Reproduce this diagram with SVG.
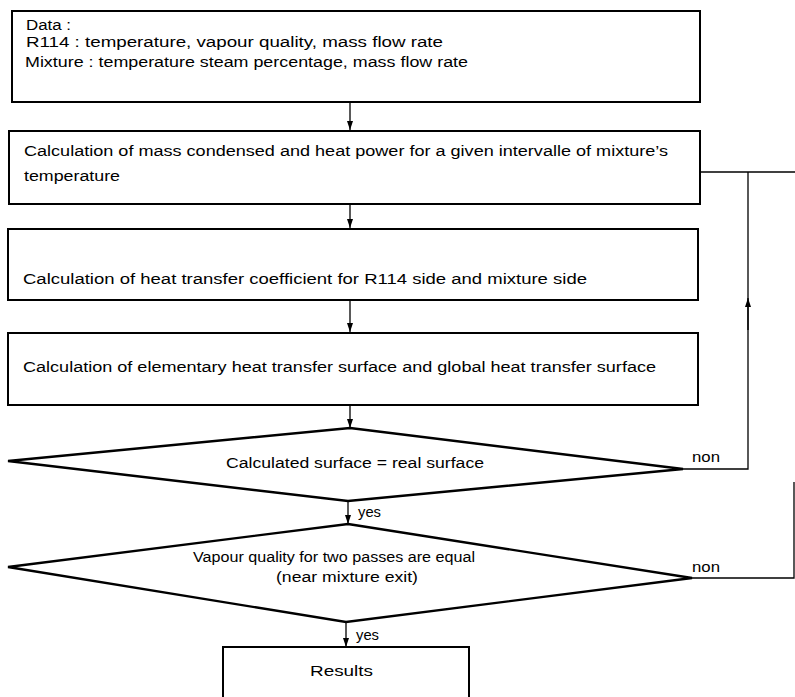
<svg xmlns="http://www.w3.org/2000/svg" width="795" height="697" viewBox="0 0 795 697">
<style>
.box{fill:#fff;stroke:#000;stroke-width:2}
.dia{fill:#fff;stroke:#000;stroke-width:2.4;stroke-linejoin:miter}
.t{font-family:"Liberation Sans",Arial,sans-serif;font-size:14px;fill:#000}
.c{stroke:#000;stroke-width:1.3;fill:none}
</style>
<defs>
<marker id="ah" markerWidth="10" markerHeight="8" refX="9" refY="3" orient="auto" markerUnits="userSpaceOnUse">
<path d="M0,0 L9,3 L0,6 Z" fill="#000"/>
</marker>
</defs>
<rect width="795" height="697" fill="#fff"/>
<g id="connectors">
<line class="c" x1="350" y1="103" x2="350" y2="130" marker-end="url(#ah)"/>
<line class="c" x1="350" y1="204" x2="350" y2="228" marker-end="url(#ah)"/>
<line class="c" x1="350" y1="300" x2="350" y2="332" marker-end="url(#ah)"/>
<line class="c" x1="350" y1="405" x2="350" y2="428" marker-end="url(#ah)"/>
<line class="c" x1="348" y1="501" x2="348" y2="524" marker-end="url(#ah)"/>
<line class="c" x1="346" y1="622" x2="346" y2="647" marker-end="url(#ah)"/>
<polyline class="c" points="700,172 795,172"/>
<polyline class="c" points="683,469 748,469 748,172"/>
<line class="c" x1="748" y1="330" x2="748" y2="298" marker-end="url(#ah)"/>
<polyline class="c" points="692,578 794,578 794,482"/>
</g>
<g id="n1">
<rect class="box" x="12" y="11" width="688" height="91"/>
<text class="t" x="26" y="30" textLength="45" lengthAdjust="spacingAndGlyphs">Data :</text>
<text class="t" x="26" y="47" textLength="417" lengthAdjust="spacingAndGlyphs">R114 : temperature, vapour quality, mass flow rate</text>
<text class="t" x="25" y="67" textLength="443" lengthAdjust="spacingAndGlyphs">Mixture : temperature steam percentage, mass flow rate</text>
</g>
<g id="n2">
<rect class="box" x="9" y="131" width="691" height="73"/>
<text class="t" x="24" y="156" textLength="644" lengthAdjust="spacingAndGlyphs">Calculation of mass condensed and heat power for a given intervalle of mixture’s</text>
<text class="t" x="24" y="181" textLength="96" lengthAdjust="spacingAndGlyphs">temperature</text>
</g>
<g id="n3">
<rect class="box" x="8" y="229" width="690" height="71"/>
<text class="t" x="23" y="284" textLength="564" lengthAdjust="spacingAndGlyphs">Calculation of heat transfer coefficient for R114 side and mixture side</text>
</g>
<g id="n4">
<rect class="box" x="8" y="333" width="690" height="72"/>
<text class="t" x="23" y="372" textLength="633" lengthAdjust="spacingAndGlyphs">Calculation of elementary heat transfer surface and global heat transfer surface</text>
</g>
<g id="d1">
<polygon class="dia" points="350,428 683,469 348,501 8,461"/>
<text class="t" x="226" y="468" textLength="258" lengthAdjust="spacingAndGlyphs">Calculated surface = real surface</text>
<text class="t" x="692" y="462" textLength="28" lengthAdjust="spacingAndGlyphs">non</text>
<text class="t" x="358" y="517" textLength="23" lengthAdjust="spacingAndGlyphs">yes</text>
</g>
<g id="d2">
<polygon class="dia" points="348,524 692,578 346,622 8,567"/>
<text class="t" x="193" y="562" textLength="282" lengthAdjust="spacingAndGlyphs">Vapour quality for two passes are equal</text>
<text class="t" x="276" y="582" textLength="142" lengthAdjust="spacingAndGlyphs">(near mixture exit)</text>
<text class="t" x="692" y="572" textLength="28" lengthAdjust="spacingAndGlyphs">non</text>
<text class="t" x="356" y="640" textLength="23" lengthAdjust="spacingAndGlyphs">yes</text>
</g>
<g id="n5">
<rect class="box" x="223" y="647" width="246" height="52"/>
<text class="t" x="310" y="676" textLength="63" lengthAdjust="spacingAndGlyphs">Results</text>
</g>
</svg>
